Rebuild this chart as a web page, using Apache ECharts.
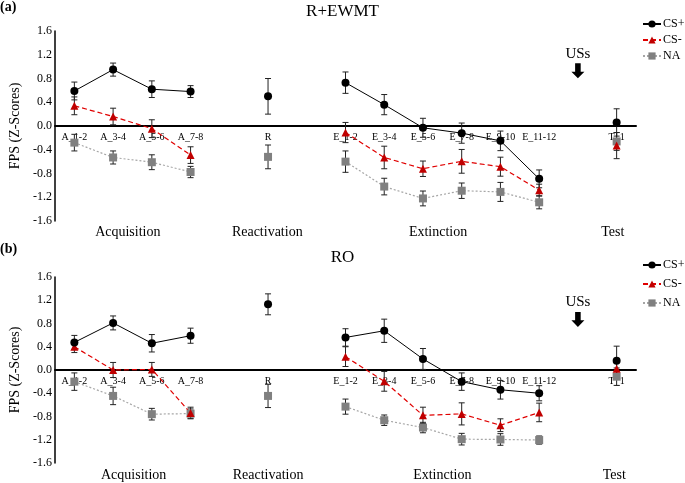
<!DOCTYPE html>
<html>
<head>
<meta charset="utf-8">
<script src="https://cdn.jsdelivr.net/npm/echarts@6/dist/echarts.min.js"></script>
<style>html,body{margin:0;padding:0;background:#fff}#c{width:685px;height:483px}</style>
</head>
<body>
<div id="c"></div>
<script>
const categories = ['A_1-2','A_3-4','A_5-6','A_7-8','','R','','E_1-2','E_3-4','E_5-6','E_7-8','E_9-10','E_11-12','','T_1'];
const yTicks = [-1.6, 1.6, 0.4];
const phases = ['Acquisition','Reactivation','Extinction','Test'];
const topPhasePos = [1.38, 4.98, 9.39, 13.9];
const botPhasePos = [1.53, 5.0, 9.5, 13.94];
const seriesNames = ['CS+','CS-','NA'];

// Panel (a) R+EWMT
const topCSplus    = [0.59, 0.95, 0.62, 0.58, null, 0.50, null, 0.73, 0.36, -0.03, -0.12, -0.25, -0.89, null, 0.06];
const topCSplusErr = [0.15, 0.11, 0.14, 0.10, null, 0.30, null, 0.18, 0.17, 0.16, 0.17, 0.165, 0.15, null, 0.23];
const topCSminus    = [0.34, 0.16, -0.045, -0.49, null, null, null, -0.11, -0.53, -0.72, -0.595, -0.685, -1.08, null, -0.33];
const topCSminusErr = [0.15, 0.14, 0.15, 0.14, null, null, null, 0.17, 0.19, 0.13, 0.20, 0.16, 0.10, null, 0.22];
const topNA    = [-0.28, -0.53, -0.61, -0.775, null, -0.52, null, -0.60, -1.02, -1.22, -1.09, -1.11, -1.285, null, -0.26];
const topNAErr = [0.14, 0.11, 0.125, 0.095, null, 0.20, null, 0.18, 0.14, 0.125, 0.13, 0.16, 0.11, null, 0.15];

// Panel (b) RO
const botCSplus    = [0.475, 0.81, 0.46, 0.59, null, 1.13, null, 0.56, 0.675, 0.19, -0.20, -0.34, -0.40, null, 0.16];
const botCSplusErr = [0.12, 0.12, 0.15, 0.13, null, 0.18, null, 0.15, 0.20, 0.18, 0.15, 0.16, 0.13, null, 0.25];
const botCSminus    = [0.40, 0.0, 0.01, -0.74, null, null, null, 0.23, -0.195, -0.78, -0.755, -0.95, -0.73, null, 0.02];
const botCSminusErr = [0.10, 0.13, 0.12, 0.10, null, null, null, 0.17, 0.17, 0.14, 0.19, 0.11, 0.16, null, 0.12];
const botNA    = [-0.20, -0.446, -0.76, -0.75, null, -0.446, null, -0.63, -0.864, -0.99, -1.19, -1.195, -1.205, null, -0.115];
const botNAErr = [0.15, 0.15, 0.10, 0.08, null, 0.20, null, 0.13, 0.09, 0.09, 0.10, 0.10, 0.07, null, 0.15];

// USs arrow marker (category index, value) per panel
const usIndex = 13;
const topUsValue = 0.93;
const botUsValue = 0.87;

const FONT = 'Liberation Serif';
const chart = echarts.init(document.getElementById('c'), null, {renderer: 'canvas'});

const grids = [
  {left: 49, right: 49, top: 31, height: 190},
  {left: 49, right: 49, top: 277, height: 186}
];

const styles = {
  'CS+': {color: '#000000', lineColor: '#000000', type: 'solid', symbol: 'circle', size: 8, width: 1},
  'CS-': {color: '#c00000', lineColor: '#e00000', type: [5, 3], symbol: 'triangle', size: 8, width: 1.2},
  'NA':  {color: '#808080', lineColor: '#a6a6a6', type: [2, 2], symbol: 'rect', size: 8, width: 1.2}
};

function lineSeries(name, data, xi, yi, usVal) {
  const s = styles[name];
  const obj = {
    type: 'line', name: name, data: data, xAxisIndex: xi, yAxisIndex: yi,
    connectNulls: false, showAllSymbol: true, symbol: s.symbol, symbolSize: s.size,
    itemStyle: {color: s.color},
    lineStyle: {color: s.lineColor, type: s.type, width: s.width},
    z: 5, animation: false
  };
  if (usVal !== undefined) {
    obj.markPoint = {
      animation: false,
      data: [{
        coord: [usIndex, usVal],
        symbol: 'path://M4,0 L10,0 L10,9 L14,9 L7,16 L0,9 L4,9 Z',
        symbolSize: [13, 15],
        itemStyle: {color: '#000'},
        label: {show: true, position: 'top', distance: 2, formatter: 'USs', fontSize: 15, fontFamily: FONT, color: '#000'}
      }]
    };
  }
  return obj;
}

function errSeries(vals, errs, xi, yi, id) {
  const d = [];
  vals.forEach((v, i) => { if (v !== null && errs[i] !== null) d.push([i, v, errs[i]]); });
  return {
    type: 'custom', name: id, xAxisIndex: xi, yAxisIndex: yi, data: d, z: 3, animation: false,
    encode: {x: 0, y: 1},
    renderItem: function (params, api) {
      const i = api.value(0), v = api.value(1), e = api.value(2);
      const hi = api.coord([i, v + e]);
      const lo = api.coord([i, v - e]);
      const w = 3;
      const st = {stroke: '#222', lineWidth: 1};
      return {type: 'group', children: [
        {type: 'line', shape: {x1: hi[0], y1: hi[1], x2: lo[0], y2: lo[1]}, style: st},
        {type: 'line', shape: {x1: hi[0] - w, y1: hi[1], x2: hi[0] + w, y2: hi[1]}, style: st},
        {type: 'line', shape: {x1: lo[0] - w, y1: lo[1], x2: lo[0] + w, y2: lo[1]}, style: st}
      ]};
    }
  };
}

function catAxis(gi) {
  // place the axis (line + labels) at the value 0 of the y scale
  const zeroOffset = -grids[gi].height * (0 - yTicks[0]) / (yTicks[1] - yTicks[0]);
  return {
    type: 'category', gridIndex: gi, data: categories, boundaryGap: true,
    position: 'bottom', offset: zeroOffset,
    axisLine: {show: true, onZero: false, lineStyle: {color: '#000', width: 2}},
    axisTick: {show: false},
    axisLabel: {interval: 0, fontSize: 10, fontFamily: FONT, color: '#000', margin: 6},
    splitLine: {show: false}
  };
}
function phaseAxis(gi, pos, margin) {
  return {
    type: 'value', gridIndex: gi, position: 'bottom', min: -0.5, max: categories.length - 0.5,
    axisLine: {show: false, onZero: false}, axisTick: {show: false}, splitLine: {show: false},
    axisLabel: {
      customValues: pos, fontSize: 14, fontFamily: FONT, color: '#000', margin: margin,
      showMinLabel: true, showMaxLabel: true, hideOverlap: false,
      formatter: function (v) {
        let k = -1;
        pos.forEach((p, j) => { if (Math.abs(p - v) < 1e-6) k = j; });
        return k >= 0 ? phases[k] : '';
      }
    }
  };
}
function valAxis(gi) {
  return {
    type: 'value', gridIndex: gi, min: yTicks[0], max: yTicks[1], interval: yTicks[2],
    name: 'FPS (Z-Scores)', nameLocation: 'middle', nameGap: 33,
    nameTextStyle: {fontSize: 14, fontFamily: FONT, color: '#000'},
    axisLine: {show: true, onZero: false, lineStyle: {color: '#000', width: 1.5}},
    axisTick: {show: false}, splitLine: {show: false},
    axisLabel: {fontSize: 12, fontFamily: FONT, color: '#000', margin: 3, formatter: v => v.toFixed(1)}
  };
}
function legend(top, gap) {
  return {
    orient: 'vertical', left: 642, top: top, itemGap: gap, itemWidth: 18, itemHeight: 9,
    data: seriesNames, selectedMode: false, padding: 0,
    textStyle: {fontSize: 12, fontFamily: FONT, color: '#000', padding: [0, 0, 0, -3]}
  };
}

const option = {
  backgroundColor: '#fff',
  animation: false,
  textStyle: {fontFamily: FONT},
  title: [
    {text: 'R+EWMT', left: 'center', top: 3, padding: 0, textStyle: {fontSize: 17, fontWeight: 'normal', fontFamily: FONT, color: '#000'}},
    {text: 'RO', left: 'center', top: 249, padding: 0, textStyle: {fontSize: 17, fontWeight: 'normal', fontFamily: FONT, color: '#000'}},
    {text: '(a)', left: 0, top: 0, padding: 0, textStyle: {fontSize: 14, fontWeight: 'bold', fontFamily: FONT, color: '#000'}},
    {text: '(b)', left: 0, top: 242, padding: 0, textStyle: {fontSize: 14, fontWeight: 'bold', fontFamily: FONT, color: '#000'}}
  ],
  legend: [legend(18, 4), legend(259, 7)],
  grid: grids,
  xAxis: [catAxis(0), phaseAxis(0, topPhasePos, 4), catAxis(1), phaseAxis(1, botPhasePos, 5)],
  yAxis: [valAxis(0), valAxis(1)],
  series: [
    errSeries(topNA, topNAErr, 0, 0, 'e1'),
    errSeries(topCSminus, topCSminusErr, 0, 0, 'e2'),
    errSeries(topCSplus, topCSplusErr, 0, 0, 'e3'),
    lineSeries('NA', topNA, 0, 0),
    lineSeries('CS-', topCSminus, 0, 0),
    lineSeries('CS+', topCSplus, 0, 0, topUsValue),
    errSeries(botNA, botNAErr, 2, 1, 'e4'),
    errSeries(botCSminus, botCSminusErr, 2, 1, 'e5'),
    errSeries(botCSplus, botCSplusErr, 2, 1, 'e6'),
    lineSeries('NA', botNA, 2, 1),
    lineSeries('CS-', botCSminus, 2, 1),
    lineSeries('CS+', botCSplus, 2, 1, botUsValue)
  ]
};
chart.setOption(option);
</script>
</body>
</html>
